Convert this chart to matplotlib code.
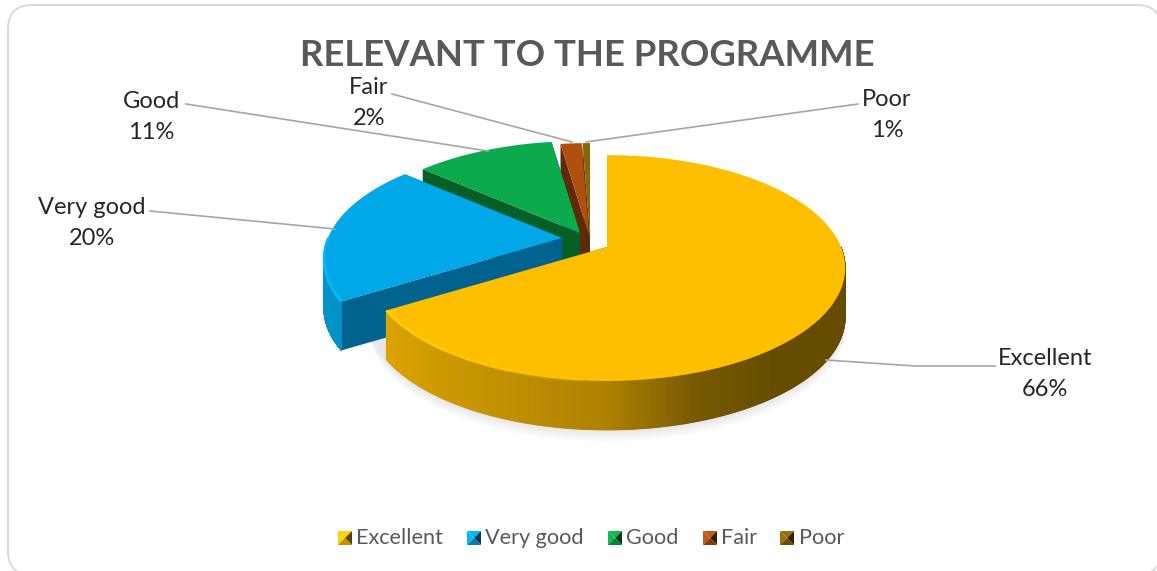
import numpy as np
import matplotlib
matplotlib.use("Agg")
import matplotlib.pyplot as plt
from matplotlib.patches import FancyBboxPatch
from matplotlib.collections import PolyCollection
from matplotlib.colors import to_rgb

plt.rcParams['font.family'] = ['Lato', 'DejaVu Sans']

title = "RELEVANT TO THE PROGRAMME"
categories = ["Excellent", "Very good", "Good", "Fair", "Poor"]
shares = [66.2, 20.2, 11.3, 1.7, 0.6]
colors = ["#FFBE00", "#00A8E8", "#0CAA4C", "#B0500F", "#8A6508"]
walls = ["#8A6800", "#00628F", "#055F26", "#5E2A08", "#4A3800"]

W, H = 1157, 571
fig = plt.figure(figsize=(W/100, H/100), dpi=100)
ax = fig.add_axes([0, 0, 1, 1])
ax.set_xlim(0, W); ax.set_ylim(H, 0); ax.axis('off')
ax.add_patch(FancyBboxPatch((8, 5), 1153, 570, boxstyle="round,pad=0,rounding_size=24",
                            fc="white", ec="#D9D9D9", lw=1.4))

A, B, k, depth = 234, 109, 0.186, 49
centers = [(607, 247), (562, 238), (580, 233), (589, 235), (590, 235)]
total = sum(shares)
a0 = 0
geoms = []
for v, c in zip(shares, centers):
    a1 = a0 + v/total*360
    geoms.append((a0, a1, c))
    a0 = a1

def rim(t_deg, c):
    t = np.radians(t_deg)
    u, v = np.sin(t), np.cos(t)
    w = 1 + k*v
    return c[0] + A*u/w, c[1] - B*v/w

def shade(tm):
    u = np.sin(np.radians(tm))
    return np.interp(u, [-1, -0.85, 0, 0.3, 0.6, 1], [0.88, 0.86, 0.68, 0.47, 0.40, 0.40])

# soft shadow below the pie
t = np.linspace(92, 262, 160)
x, y = rim(t, centers[0])
for g in np.arange(12, 0, -1.5):
    ax.fill(np.r_[x, x[::-1]], np.r_[y+depth+g, y[::-1]], color='k', alpha=0.012, lw=0)

for i in (4, 3, 2, 1, 0):
    a, b, c = geoms[i]
    for ang in (a, b):
        ex, ey = rim(ang, c)
        ax.fill([c[0], ex, ex, c[0]], [c[1], ey, ey+depth, c[1]+depth], color=walls[i], lw=0)
    lo, hi = max(a, 90), min(b, 270)
    if hi > lo:
        t = np.linspace(lo, hi, 500)
        xs, ys = rim(t, c)
        base = np.array(to_rgb(colors[i]))
        polys, cols = [], []
        for j in range(len(t)-1):
            polys.append([(xs[j], ys[j]), (xs[j+1], ys[j+1]), (xs[j+1], ys[j+1]+depth), (xs[j], ys[j]+depth)])
            cols.append(base*shade((t[j]+t[j+1])/2))
        ax.add_collection(PolyCollection(polys, facecolors=cols, edgecolors=cols, linewidths=0.6))
    t = np.linspace(a, b, 200)
    x, y = rim(t, c)
    ax.fill(np.r_[c[0], x], np.r_[c[1], y], color=colors[i], lw=0)
    # bevel highlight along the front edge of the top face, fading toward the front
    hl = np.clip(np.array(to_rgb(colors[i]))*1.12 + 0.04, 0, 1)
    for start in (185, 200, 215, 230):
        t2 = np.linspace(max(a, start), min(b, 270), 80)
        if t2[-1] > t2[0]:
            hx, hy = rim(t2, c)
            ax.plot(hx, hy, color=hl, alpha=0.3, lw=1.6, solid_capstyle='butt')

ax.text(587, 56, title, ha='center', va='center', fontsize=26.3, fontweight='bold', color='#595959')

label_pos = [(1045, 374), (92, 223), (151, 117), (369, 103), (887, 115)]
leaders = [
    [(995, 366), (915, 366), (826, 360)],
    [(150, 211), (335, 229)],
    [(186, 104), (488, 151)],
    [(392, 94), (572, 142)],
    [(858, 104), (586, 142)],
]
for cat, v, (x, y), pts in zip(categories, shares, label_pos, leaders):
    ax.text(x, y, f"{cat}\n{round(v)}%", ha='center', va='center', fontsize=17,
            color='#262626', linespacing=1.62)
    ax.plot(*zip(*pts), color='#A6A6A6', lw=1.2)

key_x = [338, 467, 608, 703, 780]
text_x = [356, 485, 626, 721, 799]
ky, ks = 538, 7
for cat, col, kx, tx in zip(categories, colors, key_x, text_x):
    base = np.array(to_rgb(col))
    cx = kx + ks
    ax.fill([kx, kx+2*ks, cx], [ky-ks, ky-ks, ky], color=np.clip(base*1.1, 0, 1), lw=0)
    ax.fill([kx, kx, cx], [ky-ks, ky+ks, ky], color=np.clip(base*1.1, 0, 1), lw=0)
    ax.fill([kx+2*ks, kx+2*ks, cx], [ky-ks, ky+ks, ky], color=base*0.35, lw=0)
    ax.fill([kx, kx+2*ks, cx], [ky+ks, ky+ks, ky], color=base*0.75, lw=0)
    ax.text(tx, 544, cat, ha='left', va='baseline', fontsize=15.6, color='#595959')

fig.savefig("out.png", dpi=100)
